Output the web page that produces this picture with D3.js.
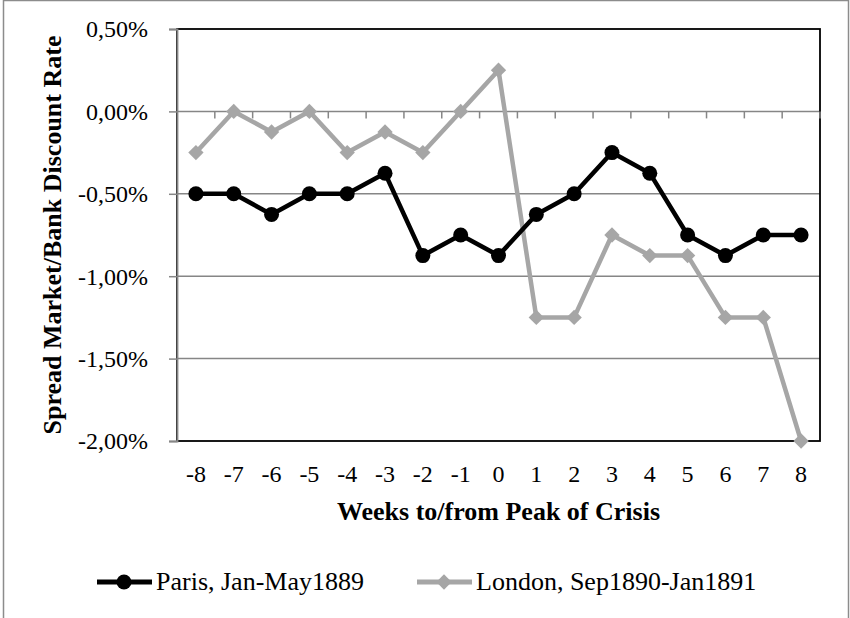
<!DOCTYPE html>
<html><head><meta charset="utf-8">
<script src="https://cdn.jsdelivr.net/npm/d3@7"></script>
<style>body{margin:0;background:#fff}svg{display:block}text{font-family:"Liberation Serif","Times New Roman",serif}</style>
</head><body><svg id="c" width="850" height="618"></svg>
<script>
const weeks = [-8,-7,-6,-5,-4,-3,-2,-1,0,1,2,3,4,5,6,7,8];
const paris = [-0.5,-0.5,-0.625,-0.5,-0.5,-0.375,-0.875,-0.75,-0.875,-0.625,-0.5,-0.25,-0.375,-0.75,-0.875,-0.75,-0.75];
const london = [-0.25,0,-0.125,0,-0.25,-0.125,-0.25,0,0.25,-1.25,-1.25,-0.75,-0.875,-0.875,-1.25,-1.25,-2.0];
const yTicks = [0.5,0,-0.5,-1,-1.5,-2];
const seriesNames = ["Paris, Jan-May1889","London, Sep1890-Jan1891"];

const svg = d3.select("#c");
const L=177, R=820, T=29, B=441;
svg.append("rect").attr("x",3.5).attr("y",0.5).attr("width",845).attr("height",640)
  .attr("fill","#fff").attr("stroke","#8c8c8c").attr("stroke-width",1.5);

const x = d3.scaleBand().domain(weeks).range([L,R]);
const y = d3.scaleLinear().domain([-2,0.5]).range([B,T]);
const fmt = v => (v<0?"-":"") + Math.abs(v).toFixed(2).replace(".",",") + "%";

svg.append("g").selectAll("line").data(yTicks.filter(v=>v>-2&&v<0.5)).join("line")
  .attr("x1",L).attr("x2",R).attr("y1",d=>y(d)).attr("y2",d=>y(d))
  .attr("stroke","#868686").attr("stroke-width",1.5);
svg.append("rect").attr("x",L).attr("y",T).attr("width",R-L).attr("height",B-T)
  .attr("fill","none").attr("stroke","#000").attr("stroke-width",1.8);

const yAxis = d3.axisLeft(y).tickValues(yTicks).tickFormat(fmt).tickSize(8).tickPadding(21);
const gy = svg.append("g").attr("transform",`translate(${L},0)`).call(yAxis);
gy.select(".domain").attr("stroke","#868686").attr("stroke-width",1.8);
gy.selectAll(".tick line").attr("stroke","#868686").attr("stroke-width",1.5);
gy.selectAll("text").attr("font-size",24).attr("fill","#000").attr("dy","0.33em");

svg.append("g").selectAll("line").data(weeks).join("line")
  .attr("x1",d=>x(d)+x.step()).attr("x2",d=>x(d)+x.step())
  .attr("y1",y(0)).attr("y2",y(0)+7).attr("stroke","#868686").attr("stroke-width",1.5);
svg.append("g").selectAll("text").data(weeks).join("text")
  .attr("x",d=>x(d)+x.bandwidth()/2).attr("y",482).attr("text-anchor","middle")
  .attr("font-size",24).text(d=>d);

svg.append("text").attr("x",(L+R)/2).attr("y",520).attr("text-anchor","middle")
  .attr("font-size",26).attr("font-weight","bold").text("Weeks to/from Peak of Crisis");
svg.append("text").attr("transform",`translate(61,${(T+B)/2}) rotate(-90)`).attr("text-anchor","middle")
  .attr("font-size",26).attr("font-weight","bold").text("Spread Market/Bank Discount Rate");

const cx = d => x(d)+x.bandwidth()/2;
const line = d3.line().x((d,i)=>cx(weeks[i])).y(d=>y(d));
const gray = "#a6a6a6";
svg.append("path").datum(london).attr("d",line).attr("fill","none").attr("stroke",gray).attr("stroke-width",4.5).attr("stroke-linejoin","round");
const diamond = d3.symbol().type(d3.symbolDiamond2).size(150);
svg.append("g").selectAll("path").data(london).join("path")
  .attr("d",diamond).attr("transform",(d,i)=>`translate(${cx(weeks[i])},${y(d)})`).attr("fill",gray);
svg.append("path").datum(paris).attr("d",line).attr("fill","none").attr("stroke","#000").attr("stroke-width",4.5).attr("stroke-linejoin","round");
svg.append("g").selectAll("circle").data(paris).join("circle")
  .attr("cx",(d,i)=>cx(weeks[i])).attr("cy",d=>y(d)).attr("r",7.5).attr("fill","#000");

const leg = [{n:seriesNames[0],c:"#000",x0:97,t:"c"},{n:seriesNames[1],c:gray,x0:417,t:"d"}];
const ly = 582;
leg.forEach(l=>{
  svg.append("line").attr("x1",l.x0).attr("x2",l.x0+55).attr("y1",ly).attr("y2",ly).attr("stroke",l.c).attr("stroke-width",5);
  if(l.t==="c") svg.append("circle").attr("cx",l.x0+27).attr("cy",ly).attr("r",7.5).attr("fill",l.c);
  else svg.append("path").attr("d",diamond).attr("transform",`translate(${l.x0+27},${ly})`).attr("fill",l.c);
  svg.append("text").attr("x",l.x0+59).attr("y",ly+8).attr("font-size",26).text(l.n);
});
</script></body></html>
